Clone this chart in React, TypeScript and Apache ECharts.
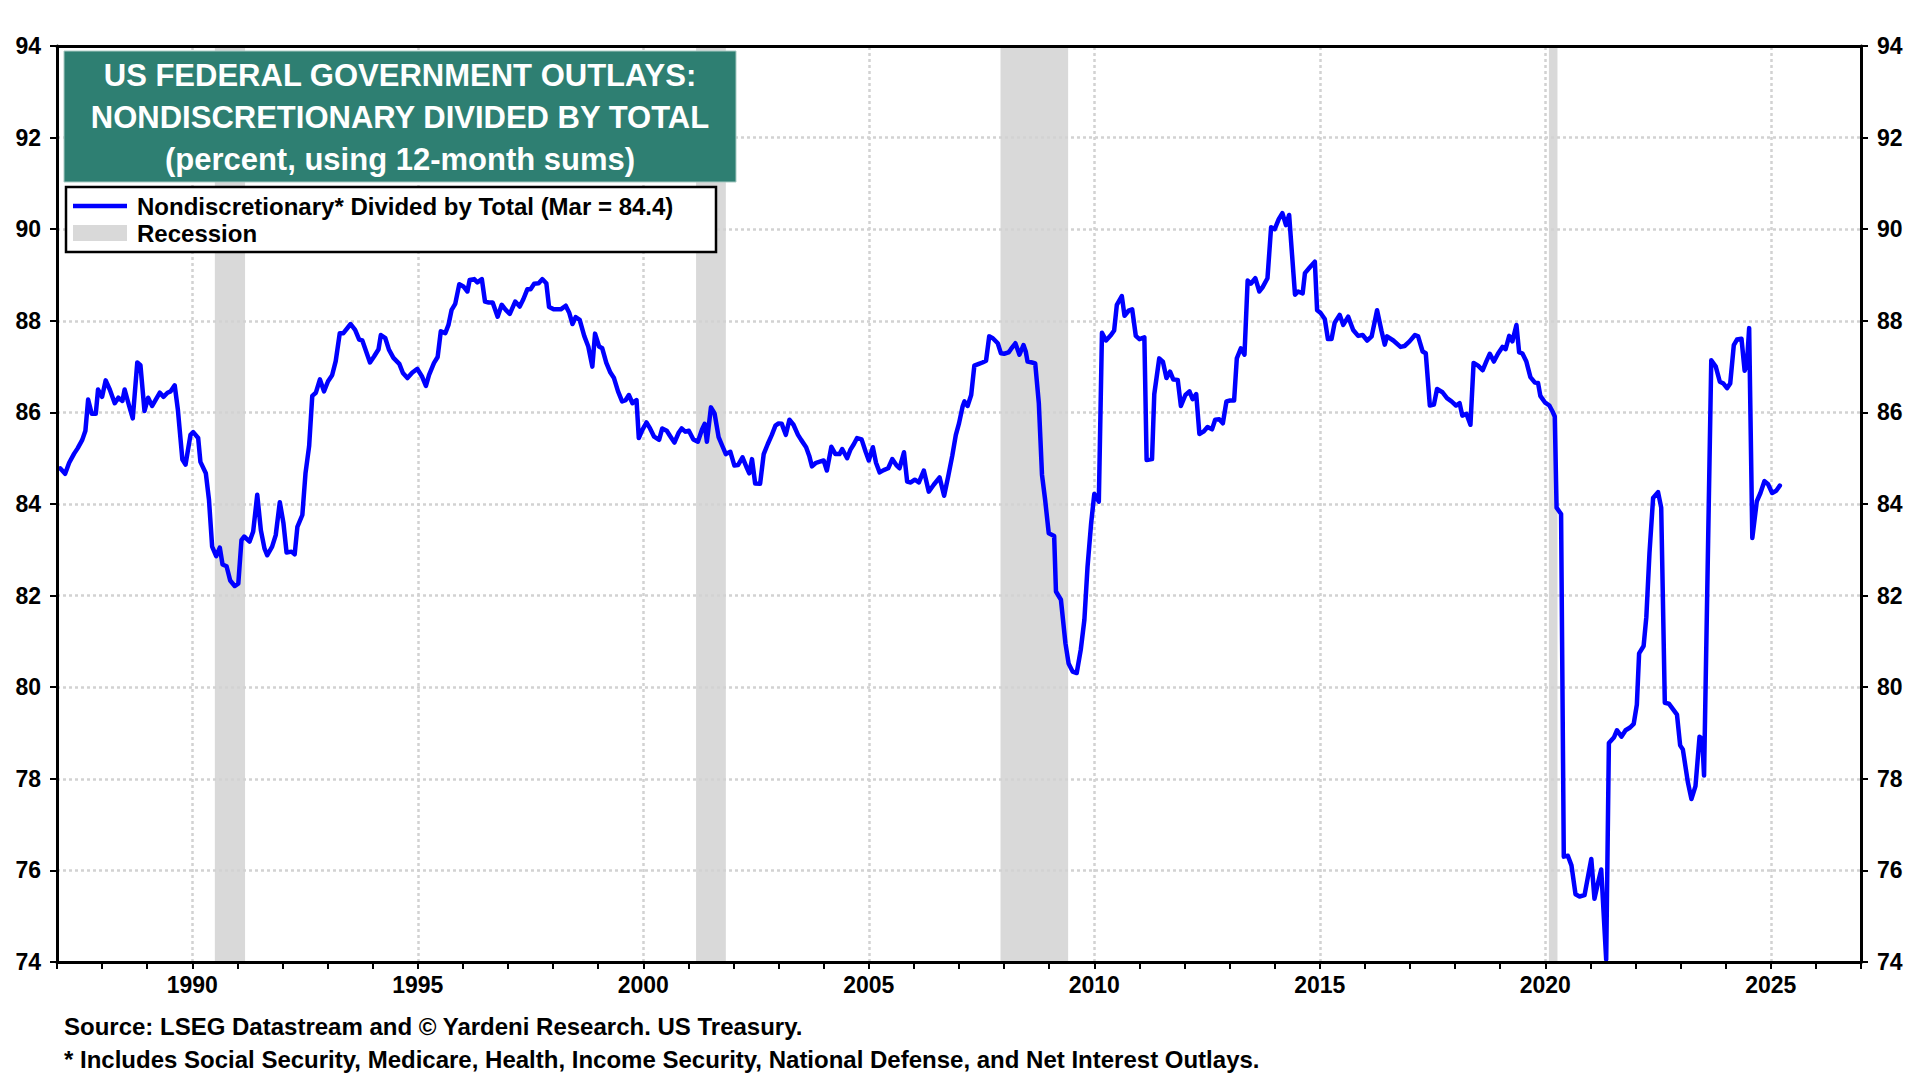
import React, { useEffect, useRef } from "react";
import * as echarts from "echarts";

// ---- Data (decimal years) ----
const years1987 = [1987.07,1987.18,1987.27,1987.38,1987.46,1987.56,1987.63,1987.69,1987.77,1987.86,1987.91,1988.0,1988.08,1988.17,1988.28,1988.36,1988.45,1988.5,1988.6,1988.68,1988.78,1988.85,1988.94,1989.02,1989.11,1989.28,1989.36,1989.45,1989.52,1989.61,1989.68,1989.78,1989.85,1989.96,1990.02,1990.13,1990.18,1990.3,1990.37,1990.44,1990.53,1990.61,1990.67,1990.76,1990.84,1990.94,1991.02,1991.09,1991.15,1991.27,1991.35,1991.44,1991.52,1991.6,1991.66,1991.77,1991.85,1991.94,1992.02,1992.09,1992.2,1992.27,1992.33,1992.44,1992.51,1992.59,1992.66,1992.74,1992.83,1992.92,1993.01,1993.1,1993.18,1993.27,1993.35];
const values1987 = [84.78,84.66,84.9,85.1,85.22,85.4,85.6,86.28,85.97,85.97,86.5,86.34,86.7,86.5,86.2,86.32,86.25,86.5,86.14,85.87,87.09,87.03,86.03,86.32,86.14,86.43,86.34,86.43,86.46,86.59,86.06,84.97,84.86,85.51,85.57,85.44,84.92,84.67,84.09,83.07,82.86,83.05,82.68,82.64,82.33,82.21,82.26,83.21,83.29,83.18,83.4,84.2,83.43,83.03,82.88,83.07,83.32,84.04,83.59,82.94,82.96,82.9,83.5,83.76,84.67,85.26,86.36,86.43,86.72,86.46,86.68,86.81,87.12,87.73,87.73];

const years1993 = [1993.51,1993.61,1993.7,1993.77,1993.94,1994.03,1994.13,1994.18,1994.28,1994.36,1994.46,1994.59,1994.67,1994.77,1994.88,1994.99,1995.09,1995.18,1995.25,1995.36,1995.44,1995.51,1995.61,1995.68,1995.75,1995.83,1995.92,1996.01,1996.1,1996.15,1996.25,1996.32,1996.42,1996.49,1996.57,1996.66,1996.77,1996.86,1996.95,1997.04,1997.16,1997.26,1997.34,1997.43,1997.5,1997.58,1997.68,1997.76,1997.85,1997.91,1998.02,1998.17,1998.28,1998.36,1998.43,1998.5,1998.59,1998.69,1998.78,1998.87,1998.93,1999.02,1999.09,1999.18,1999.27,1999.35];
const values1993 = [87.93,87.8,87.59,87.57,87.09,87.22,87.38,87.69,87.62,87.37,87.19,87.06,86.86,86.75,86.87,86.95,86.79,86.58,86.82,87.08,87.21,87.77,87.73,87.91,88.24,88.37,88.8,88.75,88.64,88.89,88.91,88.84,88.91,88.42,88.4,88.4,88.09,88.35,88.24,88.15,88.42,88.31,88.47,88.69,88.69,88.81,88.82,88.91,88.82,88.3,88.25,88.25,88.33,88.17,87.93,88.08,88.02,87.67,87.44,87.0,87.72,87.44,87.4,87.08,86.87,86.75];

const years1999 = [1999.44,1999.53,1999.61,1999.68,1999.76,1999.85,1999.9,1999.98,2000.07,2000.15,2000.24,2000.35,2000.42,2000.52,2000.59,2000.69,2000.78,2000.85,2000.93,2001.01,2001.11,2001.21,2001.3,2001.36,2001.41,2001.5,2001.58,2001.67,2001.76,2001.83,2001.93,2002.02,2002.1,2002.2,2002.3,2002.35,2002.41,2002.48,2002.59,2002.67,2002.76,2002.85,2002.93,2003.0,2003.07,2003.16,2003.24,2003.33,2003.43,2003.5,2003.61,2003.68,2003.74,2003.83,2003.93,2004.0,2004.07,2004.17,2004.26,2004.35,2004.41,2004.52,2004.59,2004.67,2004.74,2004.84,2004.93,2005.0,2005.09,2005.16,2005.24,2005.33,2005.43,2005.52,2005.61,2005.68,2005.78,2005.85,2005.93,2006.02,2006.11,2006.22,2006.33,2006.44,2006.57,2006.67,2006.76,2006.85,2006.93];
const values1999 = [86.46,86.24,86.27,86.38,86.2,86.27,85.44,85.62,85.78,85.65,85.47,85.4,85.65,85.6,85.49,85.34,85.55,85.65,85.58,85.6,85.41,85.36,85.62,85.75,85.36,86.11,85.98,85.46,85.25,85.09,85.14,84.84,84.85,85.02,84.78,84.67,84.98,84.45,84.44,85.09,85.31,85.51,85.71,85.76,85.75,85.51,85.84,85.73,85.51,85.4,85.24,85.05,84.82,84.9,84.93,84.95,84.73,85.25,85.09,85.09,85.2,85.0,85.18,85.31,85.44,85.41,85.14,84.95,85.24,84.9,84.69,84.74,84.78,84.98,84.85,84.78,85.13,84.49,84.47,84.53,84.47,84.73,84.27,84.42,84.58,84.18,84.6,85.05,85.51];

const years2007 = [2007.0,2007.08,2007.12,2007.19,2007.27,2007.34,2007.44,2007.52,2007.6,2007.67,2007.75,2007.86,2007.93,2008.0,2008.1,2008.15,2008.25,2008.34,2008.43,2008.48,2008.52,2008.62,2008.69,2008.77,2008.84,2008.91,2008.99,2009.11,2009.15,2009.26,2009.36,2009.43,2009.52,2009.61,2009.7,2009.78,2009.85,2009.93,2010.0,2010.1,2010.17,2010.26,2010.37,2010.44,2010.5,2010.61,2010.67,2010.76,2010.84,2010.92,2011.0,2011.11,2011.16,2011.28,2011.33,2011.44,2011.52,2011.6,2011.68,2011.75,2011.85,2011.92,2012.02,2012.11,2012.18,2012.26,2012.33,2012.42,2012.51,2012.61,2012.68,2012.77,2012.85,2012.93,2013.01,2013.1,2013.16,2013.25,2013.33,2013.4,2013.47,2013.57,2013.66,2013.73,2013.84,2013.92,2014.0,2014.09,2014.17,2014.25,2014.32];
const values2007 = [85.76,86.13,86.24,86.14,86.38,87.02,87.06,87.09,87.13,87.66,87.62,87.51,87.29,87.28,87.31,87.38,87.51,87.26,87.47,87.33,87.11,87.09,87.07,86.2,84.64,84.09,83.36,83.3,82.09,81.91,80.96,80.52,80.34,80.31,80.82,81.47,82.63,83.58,84.22,84.05,87.74,87.57,87.69,87.79,88.35,88.54,88.11,88.22,88.25,87.67,87.6,87.64,84.96,84.98,86.4,87.18,87.11,86.75,86.89,86.72,86.71,86.14,86.38,86.46,86.29,86.4,85.53,85.58,85.68,85.63,85.84,85.85,85.76,86.24,86.26,86.26,87.18,87.4,87.26,88.88,88.81,88.93,88.64,88.73,88.93,90.04,90.0,90.22,90.35,90.09,90.31];

const years2014 = [2014.45,2014.52,2014.62,2014.67,2014.78,2014.89,2014.94,2015.01,2015.11,2015.18,2015.26,2015.33,2015.44,2015.52,2015.63,2015.74,2015.85,2015.95,2016.05,2016.15,2016.27,2016.37,2016.44,2016.49,2016.63,2016.79,2016.88,2016.99,2017.11,2017.18,2017.28,2017.35,2017.44,2017.53,2017.6,2017.72,2017.82,2017.92,2018.02,2018.1,2018.16,2018.25,2018.34,2018.41,2018.51,2018.61,2018.7,2018.77,2018.86,2018.95,2019.05,2019.12,2019.2,2019.27,2019.36,2019.42,2019.49,2019.58,2019.67,2019.77,2019.84,2019.89,2019.99,2020.09,2020.16,2020.21];
const values2014 = [88.57,88.64,88.6,89.04,89.17,89.29,88.23,88.18,88.04,87.6,87.6,87.96,88.13,87.91,88.09,87.8,87.67,87.69,87.57,87.66,88.23,87.77,87.48,87.66,87.57,87.43,87.45,87.55,87.69,87.66,87.33,87.29,86.15,86.17,86.51,86.44,86.31,86.24,86.15,86.2,85.93,85.97,85.73,87.08,87.02,86.92,87.13,87.28,87.11,87.28,87.43,87.38,87.67,87.55,87.91,87.31,87.29,87.11,86.77,86.65,86.64,86.36,86.22,86.15,86.02,85.91];

const years2020 = [2020.25,2020.35,2020.41,2020.5,2020.58,2020.67,2020.76,2020.87,2021.02,2021.09,2021.16,2021.24,2021.35,2021.41,2021.52,2021.59,2021.69,2021.78,2021.88,2021.96,2022.03,2022.08,2022.18,2022.24,2022.31,2022.39,2022.5,2022.57,2022.65,2022.74,2022.83,2022.92,2022.99,2023.05,2023.16,2023.24,2023.33,2023.42,2023.48,2023.52,2023.68,2023.78,2023.87,2023.95,2024.03,2024.1,2024.18,2024.25,2024.35,2024.42,2024.47,2024.52,2024.59,2024.69,2024.77,2024.86,2024.94,2025.03,2025.12,2025.2];
const values2020 = [83.92,83.78,76.3,76.32,76.11,75.48,75.43,75.46,76.25,75.38,75.69,76.02,74.05,78.78,78.9,79.06,78.92,79.06,79.12,79.2,79.62,80.74,80.9,81.53,82.93,84.13,84.26,83.92,79.66,79.64,79.52,79.4,78.73,78.64,77.93,77.56,77.84,78.92,78.87,78.07,87.14,87.0,86.67,86.63,86.53,86.63,87.47,87.59,87.61,86.91,87.05,87.84,83.26,84.06,84.24,84.5,84.43,84.24,84.29,84.4];

const recessionStart = [1990.5, 2001.17, 2007.92, 2020.08];
const recessionEnd = [1991.17, 2001.83, 2009.42, 2020.27];

const gridYears = [1990, 1995, 2000, 2005, 2010, 2015, 2020, 2025];
const gridValues = [76, 78, 80, 82, 84, 86, 88, 90, 92];

const titleLines = [
  "US FEDERAL GOVERNMENT OUTLAYS:",
  "NONDISCRETIONARY DIVIDED BY TOTAL",
  "(percent, using 12-month sums)",
];
const legendLabels = ["Nondiscretionary* Divided by Total (Mar = 84.4)", "Recession"];
const footnotes = [
  "Source: LSEG Datastream and © Yardeni Research. US Treasury.",
  "* Includes Social Security, Medicare, Health, Income Security, National Defense, and Net Interest Outlays.",
];

const FONT = "'Liberation Sans', Arial, Helvetica, sans-serif";

export default function App() {
  const ref = useRef<HTMLDivElement>(null);

  useEffect(() => {
    if (!ref.current) return;
    const chart = echarts.init(ref.current, null, { renderer: "svg" });

    const years = [...years1987, ...years1993, ...years1999, ...years2007, ...years2014, ...years2020];
    const values = [...values1987, ...values1993, ...values1999, ...values2007, ...values2014, ...values2020];
    const lineData = years.map((t, i) => [t, values[i]]);

    const dotted = { color: "#d2d2d2", width: 2.5, type: [3, 3] as number[] };
    const axisText = { color: "#000", fontSize: 23, fontWeight: "bold" as const, fontFamily: FONT };

    const yAxisBase = (pos: "left" | "right") => ({
      type: "value" as const,
      position: pos,
      min: 74,
      max: 94,
      interval: 2,
      z: 10,
      axisLine: { show: true, lineStyle: { color: "#000", width: 3 } },
      axisTick: { show: true, length: 7, lineStyle: { color: "#000", width: 2 } },
      axisLabel: { ...axisText, margin: 16 },
      splitLine: { show: false },
    });

    const textStyle = (
      text: string,
      x: number,
      y: number,
      size: number,
      fill: string,
      align: "left" | "center"
    ) => ({
      type: "text" as const,
      z: 102,
      style: {
        text,
        x,
        y,
        fill,
        fontSize: size,
        fontWeight: "bold",
        fontFamily: FONT,
        textAlign: align,
        textVerticalAlign: "middle",
        align,
        verticalAlign: "middle",
      },
    });

    chart.setOption({
      animation: false,
      backgroundColor: "#ffffff",
      grid: { left: 57, right: 59, top: 46, bottom: 118, containLabel: false },
      xAxis: [
        {
          type: "value",
          position: "bottom",
          min: 1987,
          max: 2027,
          interval: 1,
          z: 10,
          axisLine: { show: true, lineStyle: { color: "#000", width: 3 } },
          axisTick: { show: true, length: 7, lineStyle: { color: "#000", width: 2 } },
          axisLabel: {
            ...axisText,
            margin: 11,
            formatter: (v: number) => (Math.round(v) % 5 === 0 ? String(Math.round(v)) : ""),
          },
          splitLine: { show: false },
        },
        {
          type: "value",
          position: "top",
          min: 1987,
          max: 2027,
          z: 10,
          axisLine: { show: true, lineStyle: { color: "#000", width: 3 } },
          axisTick: { show: false },
          axisLabel: { show: false },
          splitLine: { show: false },
        },
      ],
      yAxis: [yAxisBase("left"), yAxisBase("right")],
      series: [
        {
          name: "grid",
          type: "line",
          xAxisIndex: 0,
          yAxisIndex: 0,
          data: [],
          z: 1,
          silent: true,
          markLine: {
            silent: true,
            symbol: ["none", "none"],
            label: { show: false },
            lineStyle: dotted,
            emphasis: { disabled: true },
            data: [
              ...gridYears.map((y) => ({ xAxis: y })),
              ...gridValues.map((v) => ({ yAxis: v })),
            ],
          },
        },
        {
          name: "Recession",
          type: "line",
          xAxisIndex: 0,
          yAxisIndex: 0,
          data: [],
          z: 2,
          silent: true,
          markArea: {
            silent: true,
            itemStyle: { color: "#d9d9d9", opacity: 1 },
            emphasis: { disabled: true },
            data: recessionStart.map((s, i) => [{ xAxis: s }, { xAxis: recessionEnd[i] }]),
          },
        },
        {
          name: "Nondiscretionary",
          type: "line",
          xAxisIndex: 0,
          yAxisIndex: 0,
          data: lineData,
          z: 5,
          showSymbol: false,
          symbol: "none",
          silent: true,
          lineStyle: { color: "#0000ff", width: 4.5, join: "round", cap: "round" },
          emphasis: { disabled: true },
        },
      ],
      graphic: [
        {
          type: "rect",
          z: 100,
          shape: { x: 64, y: 51, width: 672, height: 131 },
          style: { fill: "#2e7f72", stroke: "#a9cbc4", lineWidth: 1 },
        },
        textStyle(titleLines[0], 400, 75, 31, "#ffffff", "center"),
        textStyle(titleLines[1], 400, 117, 31, "#ffffff", "center"),
        textStyle(titleLines[2], 400, 159, 31, "#ffffff", "center"),
        {
          type: "rect",
          z: 100,
          shape: { x: 66, y: 187, width: 650, height: 65 },
          style: { fill: "#ffffff", stroke: "#000000", lineWidth: 2.5 },
        },
        {
          type: "line",
          z: 101,
          shape: { x1: 73, y1: 206, x2: 127, y2: 206 },
          style: { stroke: "#0000ff", lineWidth: 4.5 },
        },
        {
          type: "rect",
          z: 101,
          shape: { x: 73, y: 225, width: 54, height: 16 },
          style: { fill: "#d9d9d9" },
        },
        textStyle(legendLabels[0], 137, 206, 24, "#000000", "left"),
        textStyle(legendLabels[1], 137, 233, 24, "#000000", "left"),
        textStyle(footnotes[0], 64, 1026, 24, "#000000", "left"),
        textStyle(footnotes[1], 64, 1059, 24, "#000000", "left"),
      ],
    });

    return () => chart.dispose();
  }, []);

  return (
    <div
      ref={ref}
      style={{ position: "fixed", left: 0, top: 0, width: 1920, height: 1080, background: "#fff" }}
    />
  );
}
